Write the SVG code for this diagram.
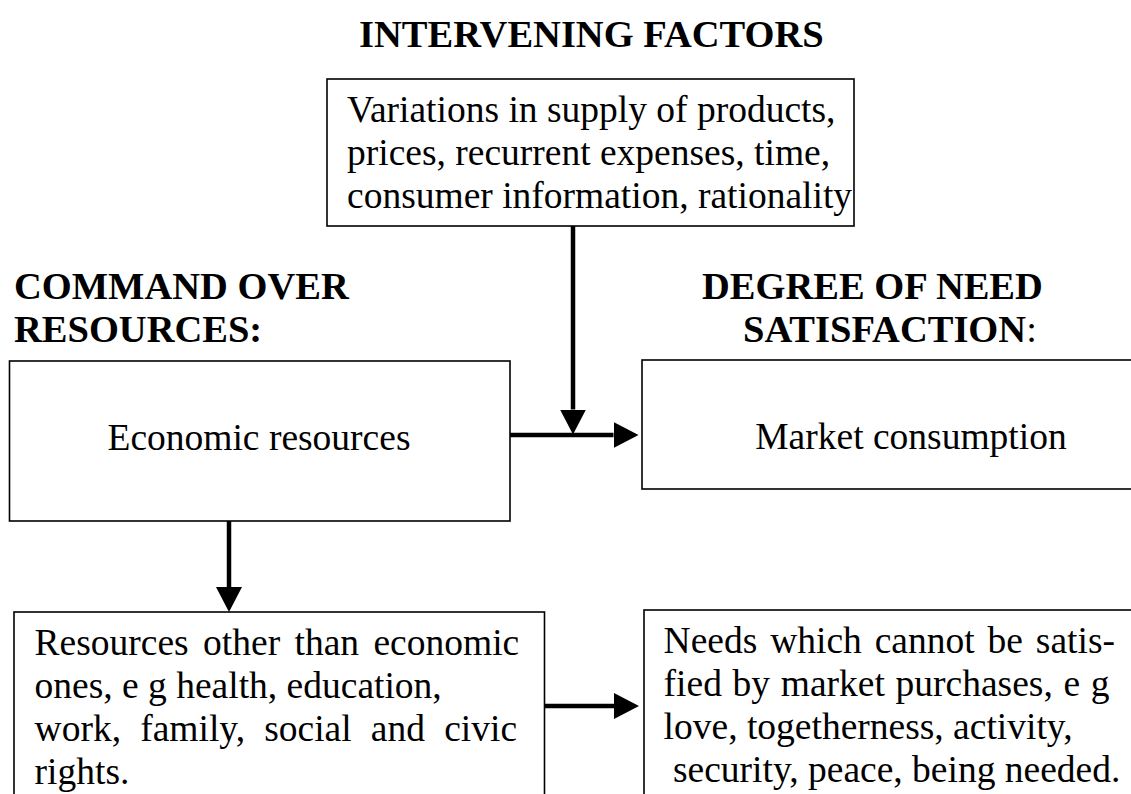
<svg xmlns="http://www.w3.org/2000/svg" width="1131" height="794" viewBox="0 0 1131 794">
<defs>
<style>
.box{fill:#fff;stroke:#000;stroke-width:1.6}
.t{font-family:"Liberation Serif","Times New Roman",serif;font-size:37.5px;fill:#000}
.h{font-family:"Liberation Serif","Times New Roman",serif;font-size:38.5px;font-weight:bold;fill:#000}
.c{stroke:#000;stroke-width:4.5;fill:none}
</style>
<marker id="ah" markerUnits="userSpaceOnUse" markerWidth="25" markerHeight="26" refX="0" refY="13" orient="auto" viewBox="0 0 25 26">
<path d="M0,0 L25,13 L0,26 Z" fill="#000"/>
</marker>
</defs>
<rect width="1131" height="794" fill="#fff"/>
<g id="headings">
<text class="h" x="359" y="47">INTERVENING FACTORS</text>
<text class="h" x="14" y="299">COMMAND OVER</text>
<text class="h" x="14" y="342">RESOURCES:</text>
<text class="h" x="702" y="299">DEGREE OF NEED</text>
<text class="h" x="743" y="342">SATISFACTION<tspan font-weight="normal">:</tspan></text>
</g>
<g id="intervening">
<rect class="box" x="327" y="79" width="527" height="147"/>
<text class="t" x="347" y="122">Variations in supply of products,</text>
<text class="t" x="347" y="165">prices, recurrent expenses, time,</text>
<text class="t" x="347" y="208">consumer information, rationality</text>
</g>
<g id="economic">
<rect class="box" x="9.5" y="361" width="500.5" height="160"/>
<text class="t" x="259" y="450" text-anchor="middle">Economic resources</text>
</g>
<g id="market">
<rect class="box" x="642" y="360" width="520" height="129"/>
<text class="t" x="911" y="449" text-anchor="middle">Market consumption</text>
</g>
<g id="other-resources">
<rect class="box" x="14" y="612" width="530.5" height="200"/>
<text class="t" x="34.6" y="655" word-spacing="5">Resources other than economic</text>
<text class="t" x="34.6" y="698">ones, e g health, education,</text>
<text class="t" x="34.6" y="741" word-spacing="9.8">work, family, social and civic</text>
<text class="t" x="34.6" y="784">rights.</text>
</g>
<g id="needs">
<rect class="box" x="644" y="610" width="520" height="200"/>
<text class="t" x="663.6" y="653" word-spacing="3.5">Needs which cannot be satis-</text>
<text class="t" x="663.6" y="696" word-spacing="1.3">fied by market purchases, e g</text>
<text class="t" x="663.6" y="739">love, togetherness, activity,</text>
<text class="t" x="663.6" y="782" xml:space="preserve"> security, peace, being needed.</text>
</g>
<g id="connectors">
<line class="c" x1="510" y1="435" x2="613.5" y2="435" marker-end="url(#ah)"/>
<line class="c" x1="573" y1="226" x2="573" y2="409.5" marker-end="url(#ah)"/>
<line class="c" x1="229" y1="521" x2="229" y2="587" marker-end="url(#ah)"/>
<line class="c" x1="544.5" y1="706" x2="614" y2="706" marker-end="url(#ah)"/>
</g>
</svg>
